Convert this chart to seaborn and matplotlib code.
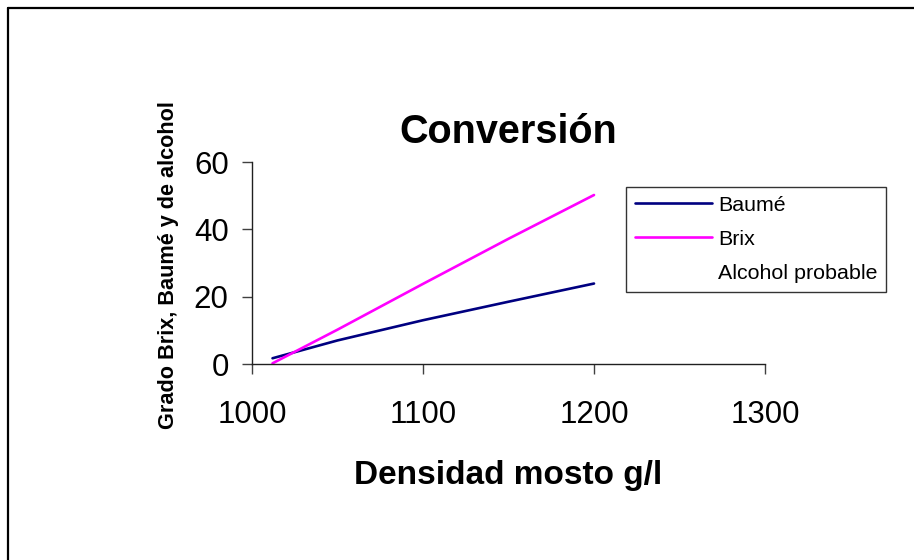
import matplotlib
matplotlib.use("Agg")
import matplotlib.pyplot as plt
from matplotlib.lines import Line2D
import numpy as np
import pandas as pd
import seaborn as sns

# Must density (g/l) and the derived scales
densidad = [1012, 1050, 1100, 1150, 1200]
baume = [1.7, 7.0, 13.0, 18.5, 23.9]
brix = [0.2, 10.2, 23.8, 37.2, 50.2]

series_names = ["Baumé", "Brix", "Alcohol probable"]
series_colors = ["#000080", "#FF00FF", "#FFFFFF"]

x_ticks = [1000, 1100, 1200, 1300]
y_ticks = [0, 20, 40, 60]

df = pd.DataFrame({
    "densidad": densidad * 2,
    "valor": baume + brix,
    "escala": ["Baumé"] * len(densidad) + ["Brix"] * len(densidad),
})

sns.set_theme(style="white")
plt.rcParams["font.family"] = ["Liberation Sans", "DejaVu Sans"]
plt.rcParams["text.color"] = "black"
plt.rcParams["axes.labelcolor"] = "black"

fig = plt.figure(figsize=(9.14, 5.6), dpi=100)
ax = fig.add_axes([0.2757, 0.35, 0.5613, 0.3607])

sns.lineplot(data=df, x="densidad", y="valor", hue="escala",
             palette={"Baumé": series_colors[0], "Brix": series_colors[1]},
             linewidth=1.9, ax=ax, legend=False)

ax.set_xlim(1000, 1300)
ax.set_ylim(0, 60)
ax.set_xticks(x_ticks)
ax.set_yticks(y_ticks)
ax.tick_params(axis="both", which="both", direction="out", length=7.2,
               width=1.0, color="#404040", labelsize=22.5, labelcolor="black",
               bottom=True, left=True)
ax.tick_params(axis="x", pad=19)
ax.tick_params(axis="y", pad=9.6)
ax.set_facecolor("white")
for side in ["top", "right"]:
    ax.spines[side].set_visible(False)
for side in ["left", "bottom"]:
    ax.spines[side].set_color("#202020")
    ax.spines[side].set_linewidth(1.0)

ax.set_xlabel("Densidad mosto g/l", fontsize=24, fontweight="bold",
              labelpad=21, color="black")
ax.set_ylabel("Grado Brix, Baumé y de alcohol", fontsize=15.6, fontweight="bold",
              labelpad=0, color="black")
ax.yaxis.set_label_coords(-0.143, 0.49)
ax.set_title("Conversión", fontsize=28.5, fontweight="bold", pad=14,
             color="black")

handles = [
    Line2D([], [], color=series_colors[0], linewidth=1.9),
    Line2D([], [], color=series_colors[1], linewidth=1.9),
    Line2D([], [], linestyle="none"),
]
leg = fig.legend(handles, series_names, loc="upper left",
                 bbox_to_anchor=(626 / 914, 1 - 187 / 560),
                 fontsize=15.4, frameon=True, fancybox=False, shadow=False,
                 handlelength=3.6, handletextpad=0.3, labelspacing=0.72,
                 borderpad=0.4, borderaxespad=0.0)
leg.get_frame().set_edgecolor("black")
leg.get_frame().set_linewidth(1.0)
for t in leg.get_texts():
    t.set_color("black")

# Chart-area border along the top and left edges
fig.add_artist(Line2D([8 / 914, 1.0], [1 - 8 / 560, 1 - 8 / 560],
                      color="black", linewidth=1.6, transform=fig.transFigure))
fig.add_artist(Line2D([8 / 914, 8 / 914], [0.0, 1 - 8 / 560],
                      color="black", linewidth=1.6, transform=fig.transFigure))

fig.savefig("out.png", dpi=100, facecolor="white")
